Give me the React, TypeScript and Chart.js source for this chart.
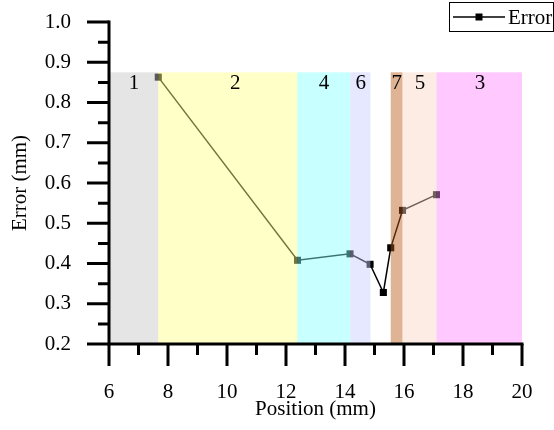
import React, { useEffect, useRef } from "react";
import { Chart, registerables } from "chart.js";

Chart.register(...registerables);

// ---- Data ----
const positions = [7.67, 12.39, 14.17, 14.85, 15.3, 15.55, 15.95, 17.1];
const errors = [0.863, 0.408, 0.424, 0.398, 0.328, 0.439, 0.532, 0.571];
const seriesName = "Error";

const regionLabels = ["1", "2", "4", "6", "7", "5", "3"];
const regionStart = [6, 7.67, 12.38, 14.18, 15.55, 15.95, 17.1];
const regionEnd = [7.67, 12.38, 14.18, 14.86, 15.95, 17.1, 20];
const regionLabelX = [6.85, 10.28, 13.29, 14.53, 15.75, 16.54, 18.58];
const regionColors = [
  "rgba(197,197,197,0.45)",
  "rgba(255,255,133,0.45)",
  "rgba(133,255,255,0.45)",
  "rgba(197,204,255,0.45)",
  "rgba(182,88,17,0.45)",
  "rgba(248,213,195,0.45)",
  "rgba(255,133,255,0.45)",
];
const regionTop = 0.875;
const regionBottom = 0.2;
const regionLabelY = 0.848;

const xMajorTicks = [6, 8, 10, 12, 14, 16, 18, 20];
const xMinorTicks = [7, 9, 11, 13, 15, 17, 19];
const yMajorTicks = [0.2, 0.3, 0.4, 0.5, 0.6, 0.7, 0.8, 0.9, 1.0];
const yMinorTicks = [0.25, 0.35, 0.45, 0.55, 0.65, 0.75, 0.85, 0.95];

const FONT_FAMILY = '"Liberation Serif", "Times New Roman", serif';
const FONT_SIZE = 21;

const overlayPlugin = {
  id: "overlay",
  afterDatasetsDraw(chart: any) {
    const { ctx, scales } = chart;
    const x = scales.x;
    const y = scales.y;
    ctx.save();
    // shaded regions (drawn over the series, translucent)
    const yTop = y.getPixelForValue(regionTop);
    const yBot = y.getPixelForValue(regionBottom);
    for (let i = 0; i < regionLabels.length; i++) {
      const x0 = x.getPixelForValue(regionStart[i]);
      const x1 = x.getPixelForValue(regionEnd[i]);
      ctx.fillStyle = regionColors[i];
      ctx.fillRect(x0, yTop, x1 - x0, yBot - yTop);
    }
    // region labels
    ctx.fillStyle = "#000";
    ctx.font = `${FONT_SIZE}px ${FONT_FAMILY}`;
    ctx.textAlign = "center";
    ctx.textBaseline = "middle";
    for (let i = 0; i < regionLabels.length; i++) {
      ctx.fillText(
        regionLabels[i],
        x.getPixelForValue(regionLabelX[i]),
        y.getPixelForValue(regionLabelY)
      );
    }
    // axes
    const left = x.getPixelForValue(xMajorTicks[0]);
    const right = x.getPixelForValue(xMajorTicks[xMajorTicks.length - 1]);
    const bottom = y.getPixelForValue(yMajorTicks[0]);
    const top = y.getPixelForValue(yMajorTicks[yMajorTicks.length - 1]);
    ctx.strokeStyle = "#000";
    ctx.lineWidth = 3;
    ctx.lineCap = "butt";
    ctx.beginPath();
    ctx.moveTo(left, top - 1.5);
    ctx.lineTo(left, bottom);
    ctx.lineTo(right + 1.5, bottom);
    ctx.stroke();
    // ticks
    ctx.beginPath();
    for (const v of yMajorTicks) {
      const p = y.getPixelForValue(v);
      ctx.moveTo(left - 22, p);
      ctx.lineTo(left, p);
    }
    for (const v of yMinorTicks) {
      const p = y.getPixelForValue(v);
      ctx.moveTo(left - 11, p);
      ctx.lineTo(left, p);
    }
    for (const v of xMajorTicks) {
      const p = x.getPixelForValue(v);
      ctx.moveTo(p, bottom);
      ctx.lineTo(p, bottom + 22);
    }
    for (const v of xMinorTicks) {
      const p = x.getPixelForValue(v);
      ctx.moveTo(p, bottom);
      ctx.lineTo(p, bottom + 11);
    }
    ctx.stroke();

    // legend
    ctx.lineWidth = 1;
    ctx.strokeStyle = "#000";
    ctx.strokeRect(449.5, 2.5, 104, 29);
    ctx.lineWidth = 1.5;
    ctx.beginPath();
    ctx.moveTo(453, 17);
    ctx.lineTo(505, 17);
    ctx.stroke();
    ctx.fillStyle = "#000";
    ctx.fillRect(479 - 3.5, 17 - 3.5, 7, 7);
    ctx.font = `${FONT_SIZE}px ${FONT_FAMILY}`;
    ctx.textAlign = "left";
    ctx.textBaseline = "middle";
    ctx.fillText(seriesName, 508, 18);
    ctx.restore();
  },
};

const zeroPad = (s: any) => {
  s.paddingTop = 0;
  s.paddingBottom = 0;
  s.paddingLeft = 0;
  s.paddingRight = 0;
};

export default function App() {
  const canvasRef = useRef<HTMLCanvasElement | null>(null);

  useEffect(() => {
    document.body.style.margin = "0";
    const canvas = canvasRef.current;
    if (!canvas) return;
    const font = { family: FONT_FAMILY, size: FONT_SIZE };
    const chart = new Chart(canvas, {
      type: "line",
      data: {
        datasets: [
          {
            label: seriesName,
            data: positions.map((p, i) => ({ x: p, y: errors[i] })),
            borderColor: "#000",
            backgroundColor: "#000",
            borderWidth: 1.5,
            pointStyle: "rect",
            pointRadius: 5,
            pointBorderWidth: 0,
            pointBackgroundColor: "#000",
            tension: 0,
          },
        ],
      },
      options: {
        animation: false,
        responsive: false,
        devicePixelRatio: 1,
        layout: { padding: { top: 22, right: 32, left: 0, bottom: 0 } },
        plugins: {
          legend: { display: false },
          tooltip: { enabled: false },
        },
        scales: {
          x: {
            type: "linear",
            min: 6,
            max: 20,
            afterBuildTicks: (s: any) => {
              s.ticks = xMajorTicks.map((v) => ({ value: v }));
            },
            afterFit: (s: any) => {
              s.height = 86;
              zeroPad(s);
            },
            grid: { display: false, drawTicks: false },
            border: { display: false },
            ticks: {
              color: "#000",
              font,
              padding: 36,
              maxRotation: 0,
              autoSkip: false,
              callback: (v: any) => String(v),
            },
            title: {
              display: true,
              text: "Position (mm)",
              color: "#000",
              font,
              padding: { top: 0, bottom: 8 },
            },
          },
          y: {
            type: "linear",
            min: 0.2,
            max: 1.0,
            afterBuildTicks: (s: any) => {
              s.ticks = yMajorTicks.map((v) => ({ value: v }));
            },
            afterFit: (s: any) => {
              s.width = 109;
              zeroPad(s);
            },
            grid: { display: false, drawTicks: false },
            border: { display: false },
            ticks: {
              color: "#000",
              font,
              padding: 38,
              autoSkip: false,
              callback: (v: any) => Number(v).toFixed(1),
            },
            title: {
              display: true,
              text: "Error (mm)",
              color: "#000",
              font,
              padding: { top: 8, bottom: 0 },
            },
          },
        },
      },
      plugins: [overlayPlugin],
    });
    return () => chart.destroy();
  }, []);

  return (
    <div style={{ width: 554, height: 430 }}>
      <canvas ref={canvasRef} width={554} height={430} style={{ display: "block" }} />
    </div>
  );
}
